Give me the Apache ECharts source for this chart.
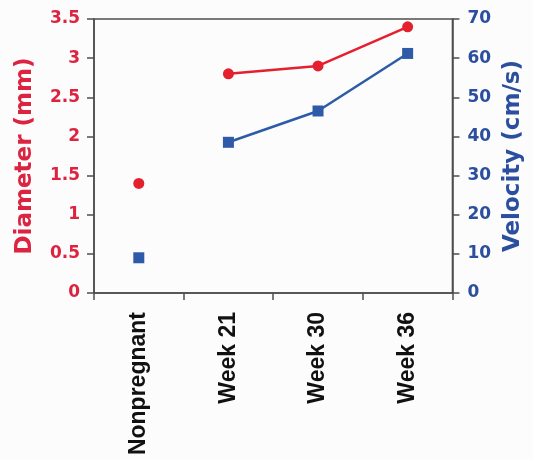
<!DOCTYPE html>
<html>
<head>
<meta charset="utf-8">
<script src="https://cdn.jsdelivr.net/npm/echarts@6/dist/echarts.min.js"></script>
<style>
html,body{margin:0;padding:0;background:#fcfcfc;}
#chart{width:533px;height:460px;}
</style>
</head>
<body>
<div id="chart"></div>
<script>
var categories = ['Nonpregnant', 'Week 21', 'Week 30', 'Week 36'];
var diameter = [1.4, 2.8, 2.9, 3.4];     // mm
var velocity = [9, 38.5, 46.5, 61.2];   // cm/s
var diameterTicks = [0, 3.5, 0.5];
var velocityTicks = [0, 70, 10];

var RED = '#e5202e';
var RED_TXT = '#dc2440';
var BLUE = '#2d5ba8';
var BLUE_TXT = '#2b4f9e';
var AXIS = '#4d4d4d';

function isolated(arr) { return arr.map(function (v, i) { return i === 0 ? v : null; }); }
function connected(arr) { return arr.map(function (v, i) { return i === 0 ? null : v; }); }

var chart = echarts.init(document.getElementById('chart'), null, {renderer: 'canvas'});
chart.setOption({
  backgroundColor: '#fcfcfc',
  animation: false,
  grid: {left: 94, right: 76, top: 19, bottom: 167, show: true, borderColor: AXIS, borderWidth: 1.5, backgroundColor: 'transparent'},
  xAxis: {
    type: 'category',
    data: categories,
    boundaryGap: true,
    axisLine: {lineStyle: {color: AXIS, width: 1.5}},
    axisTick: {show: true, alignWithLabel: false, inside: false, length: 7, lineStyle: {color: AXIS, width: 1.5}},
    axisLabel: {rotate: 90, margin: 19, color: '#111', fontFamily: 'Liberation Sans', fontWeight: 'bold', fontSize: 23, interval: 0}
  },
  yAxis: [{
    type: 'value',
    min: diameterTicks[0], max: diameterTicks[1], interval: diameterTicks[2],
    position: 'left',
    name: 'Diameter (mm)',
    nameLocation: 'middle',
    nameGap: 57,
    nameTextStyle: {color: RED_TXT, fontFamily: 'DejaVu Sans', fontWeight: 'bold', fontSize: 23},
    axisLine: {show: true, lineStyle: {color: AXIS, width: 1.5}},
    axisTick: {show: true, length: 7, lineStyle: {color: AXIS, width: 1.5}},
    splitLine: {show: false},
    axisLabel: {color: RED_TXT, fontFamily: 'DejaVu Sans', fontWeight: 'bold', fontSize: 17, margin: 14}
  }, {
    type: 'value',
    min: velocityTicks[0], max: velocityTicks[1], interval: velocityTicks[2],
    position: 'right',
    name: 'Velocity (cm/s)',
    nameLocation: 'middle',
    nameGap: 48,
    nameTextStyle: {color: BLUE_TXT, fontFamily: 'DejaVu Sans', fontWeight: 'bold', fontSize: 23},
    axisLine: {show: true, lineStyle: {color: AXIS, width: 1.5}},
    axisTick: {show: true, length: 7, lineStyle: {color: AXIS, width: 1.5}},
    splitLine: {show: false},
    axisLabel: {color: BLUE_TXT, fontFamily: 'DejaVu Sans', fontWeight: 'bold', fontSize: 17, margin: 15}
  }],
  series: [{
    type: 'line', yAxisIndex: 0, data: connected(diameter),
    symbol: 'circle', symbolSize: 11, showAllSymbol: true,
    itemStyle: {color: RED, opacity: 1}, lineStyle: {color: RED, width: 2.5}
  }, {
    type: 'scatter', yAxisIndex: 0, data: isolated(diameter),
    symbol: 'circle', symbolSize: 11, itemStyle: {color: RED, opacity: 1}
  }, {
    type: 'line', yAxisIndex: 1, data: connected(velocity),
    symbol: 'rect', symbolSize: 11, showAllSymbol: true,
    itemStyle: {color: BLUE, opacity: 1}, lineStyle: {color: BLUE, width: 2.5}
  }, {
    type: 'scatter', yAxisIndex: 1, data: isolated(velocity),
    symbol: 'rect', symbolSize: 11, itemStyle: {color: BLUE, opacity: 1}
  }]
});
</script>
</body>
</html>
